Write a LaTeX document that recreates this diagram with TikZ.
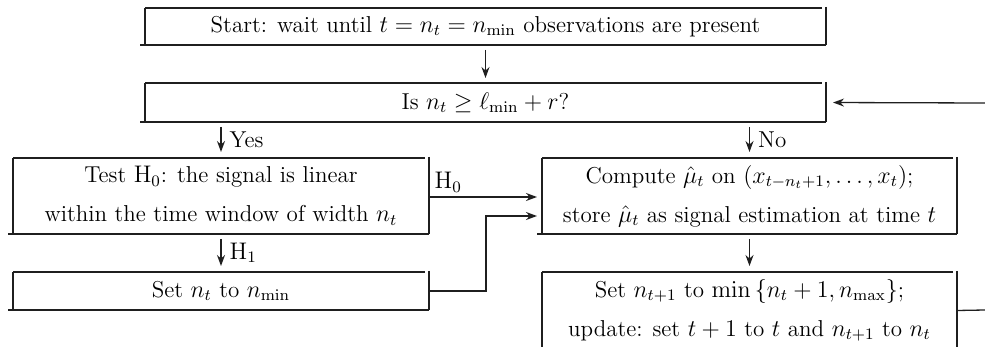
\documentclass[tikz,border=0pt]{standalone}
\usetikzlibrary{arrows.meta}
\begin{document}
\begin{tikzpicture}[x=0.5pt,y=-0.5pt,
  every node/.style={font=\fontsize{11.5}{19.5}\selectfont},
  blk/.style={draw=none,inner sep=0pt,outer sep=0pt,align=center},
  edge/.style={line width=0.65pt,draw=black!88},
  arr/.style={edge,-{Stealth[length=5.5pt,width=4pt]}},
  lbl/.style={inner sep=1pt}
]
\useasboundingbox (0,0) rectangle (985,347);
\newcommand{\qbox}[1]{%
  \draw[edge] (#1.north west) -- ([xshift=-2pt]#1.north east);
  \draw[edge] (#1.north west) -- (#1.south west);
  \draw[edge] ([xshift=-2.5pt]#1.south west) -- (#1.south east);
  \draw[edge] ([yshift=0.5pt]#1.north east) -- (#1.south east);}

\node[blk,minimum width=340.5pt,minimum height=18.5pt] (b1) at (485.5,26.5)
  {Start: wait until $t=n_t=n_{\min}$ observations are present};
\node[blk,minimum width=340.5pt,minimum height=19.5pt] (b2) at (485.5,102.5)
  {Is $n_t\ge \ell_{\min}+r$?};
\node[blk,minimum width=208pt,minimum height=38pt] (b3) at (221,196)
  {Test $\mathrm{H}_0$: the signal is linear\\ within the time window of width $n_t$};
\node[blk,minimum width=208pt,minimum height=19pt] (b4) at (221,291)
  {Set $n_t$ to $n_{\min}$};
\node[blk,minimum width=207.5pt,minimum height=38pt] (b5) at (749.5,196)
  {Compute $\hat\mu_t$ on $(x_{t-n_t+1},\ldots,x_t)$;\\ store $\hat\mu_t$ as signal estimation at time $t$};
\node[blk,minimum width=207.5pt,minimum height=38.5pt] (b6) at (749.5,310.5)
  {Set $n_{t+1}$ to $\min\left\{n_t+1,n_{\max}\right\}$;\\ update: set $t+1$ to $t$ and $n_{t+1}$ to $n_t$};

\qbox{b1}\qbox{b2}\qbox{b3}\qbox{b4}\qbox{b5}\qbox{b6}

\coordinate (fbin) at (985,103);
\coordinate (fbout) at (985,310);
\coordinate (j1) at (486,291);
\coordinate (j2) at (486,216);

\draw[arr,shorten <=2.5pt,shorten >=2.5pt] (b1.south) -- (b2.north);
\draw[arr,shorten <=2.5pt,shorten >=3pt] (b2.south -| b3.north) -- (b3.north)
  node[midway,right,lbl,xshift=3pt] {Yes};
\draw[arr,shorten <=2.5pt,shorten >=3pt] (b2.south -| b5.north) -- (b5.north)
  node[midway,right,lbl,xshift=3pt] {No};
\draw[arr,shorten <=2.5pt,shorten >=3pt] (b3.south) -- (b4.north)
  node[midway,right,lbl,xshift=3pt] {$\mathrm{H}_1$};
\draw[arr,shorten <=2.5pt,shorten >=3pt] (b5.south) -- (b6.north);
\draw[arr,shorten >=2.5pt] (b3.east |- 0,197) -- (b5.west |- 0,197)
  node[pos=0,anchor=south west,lbl,xshift=1.5pt,yshift=1pt] {$\mathrm{H}_0$};
\draw[arr,shorten >=2.5pt] (b4.east) -- (j1) -- (j2) -- (b5.west |- j2);
\draw[arr,shorten >=3.5pt] (fbin) -- (b2.east);
\draw[edge] (b6.east) -- (fbout);
\end{tikzpicture}
\end{document}
